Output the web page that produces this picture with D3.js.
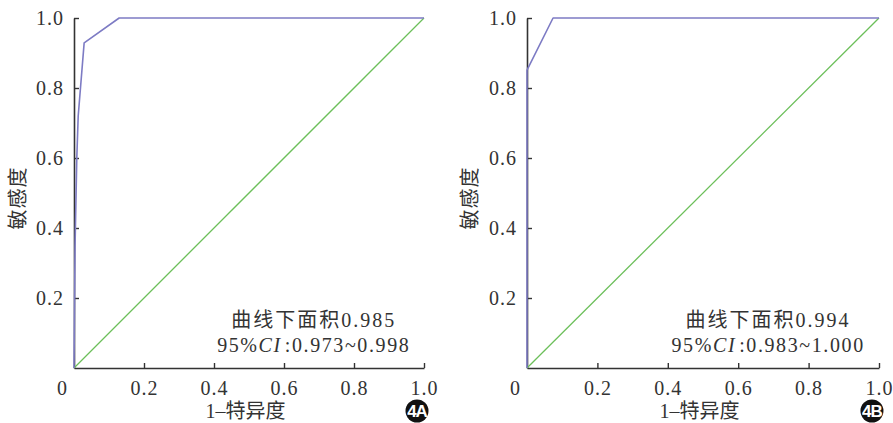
<!DOCTYPE html>
<html><head><meta charset="utf-8">
<script src="https://cdn.jsdelivr.net/npm/d3@7"></script>
<style>
html,body{margin:0;padding:0;background:#fff;}
svg{display:block;}
text{font-family:"Liberation Serif","Noto Sans CJK SC",serif;fill:#333;}
</style></head>
<body>
<svg id="chart" width="893" height="423"></svg>
<script>
// ---- data ----
const xTickValues = [0.2, 0.4, 0.6, 0.8, 1.0];
const yTickValues = [0.2, 0.4, 0.6, 0.8, 1.0];
const diagFpr = [0, 1];
const diagTpr = [0, 1];
const rocAFpr = [0, 0.003, 0.008, 0.012, 0.029, 0.129, 1.0];
const rocATpr = [0, 0.35, 0.60, 0.72, 0.929, 1.0, 1.0];
const rocBFpr = [0, 0, 0.074, 1.0];
const rocBTpr = [0, 0.851, 1.0, 1.0];
const aucTextA = "曲线下面积0.985";
const ciTextA = ":0.973~0.998";
const aucTextB = "曲线下面积0.994";
const ciTextB = ":0.983~1.000";
const panelTags = ["4A", "4B"];
const xLabel = "1–特异度";
const yLabel = "敏感度";

const panels = [
  {fpr: rocAFpr, tpr: rocATpr, auc: aucTextA, ci: ciTextA, tag: panelTags[0], x0: 74, x1: 424, ylabX: 18},
  {fpr: rocBFpr, tpr: rocBTpr, auc: aucTextB, ci: ciTextB, tag: panelTags[1], x0: 527, x1: 879, ylabX: 470}
];

const svg = d3.select("#chart");
const yTop = 18, yBot = 368;
const fmt = d3.format(".1f");

panels.forEach(p => {
  const x = d3.scaleLinear().domain([0, 1]).range([p.x0, p.x1]);
  const y = d3.scaleLinear().domain([0, 1]).range([yBot, yTop]);
  const g = svg.append("g");

  // x axis
  const xa = g.append("g").attr("transform", `translate(0,${yBot})`)
    .call(d3.axisBottom(x).tickValues(xTickValues).tickFormat(fmt)
      .tickSizeInner(-5).tickSizeOuter(0).tickPadding(13));
  // y axis
  const ya = g.append("g").attr("transform", `translate(${p.x0},0)`)
    .call(d3.axisLeft(y).tickValues(yTickValues).tickFormat(fmt)
      .tickSizeInner(-5).tickSizeOuter(0).tickPadding(10));
  [xa, ya].forEach(a => {
    a.select(".domain").attr("stroke", "#333").attr("stroke-width", 1.6);
    a.selectAll(".tick line").attr("stroke", "#333").attr("stroke-width", 1.4);
    a.selectAll(".tick text").attr("font-size", 20).attr("fill", "#333")
      .style("font-family", "Liberation Serif").style("letter-spacing", "1px");
  });
  // origin label
  g.append("text").attr("x", x(0) - 12).attr("y", 395).attr("text-anchor", "middle")
    .attr("font-size", 20).text(fmt(0).replace(".0", ""));

  // diagonal reference
  const line = d3.line().x(d => x(d[0])).y(d => y(d[1]));
  g.append("path").datum(d3.zip(diagFpr, diagTpr)).attr("d", line)
    .attr("fill", "none").attr("stroke", "#6cbf5a").attr("stroke-width", 1.3);
  // ROC curve
  g.append("path").datum(d3.zip(p.fpr, p.tpr)).attr("d", line)
    .attr("fill", "none").attr("stroke", "#7d7bc4").attr("stroke-width", 1.6)
    .attr("stroke-linejoin", "round");

  // annotation
  const cx = x(0.685);
  g.append("text").attr("x", cx).attr("y", 327).attr("text-anchor", "middle")
    .attr("font-size", 20).style("letter-spacing", "2px").text(p.auc);
  const t2 = g.append("text").attr("x", cx).attr("y", 352).attr("text-anchor", "middle")
    .attr("font-size", 20).style("letter-spacing", "1.6px");
  t2.append("tspan").text("95%");
  t2.append("tspan").attr("font-style", "italic").text("CI");
  t2.append("tspan").attr("dx", 3).text(p.ci);

  // axis titles
  g.append("text").attr("x", x(0.49)).attr("y", 418).attr("text-anchor", "middle")
    .attr("font-size", 20).text(xLabel);
  g.append("text").attr("transform", `translate(${p.ylabX},198) rotate(-90)`)
    .attr("text-anchor", "middle").attr("dy", "0.35em")
    .attr("font-size", 20).style("letter-spacing", "1px").text(yLabel);

  // panel tag badge
  const bx = x(0.98), by = 411;
  g.append("circle").attr("cx", bx).attr("cy", by).attr("r", 11.5).attr("fill", "#111");
  g.append("text").attr("x", bx).attr("y", by).attr("dy", "0.36em").attr("text-anchor", "middle")
    .style("font-family", "Liberation Sans, Arial, sans-serif").style("font-weight", "bold")
    .attr("font-size", 17).style("fill", "#fff").style("letter-spacing", "-1px").text(p.tag);
});
</script>
</body></html>
